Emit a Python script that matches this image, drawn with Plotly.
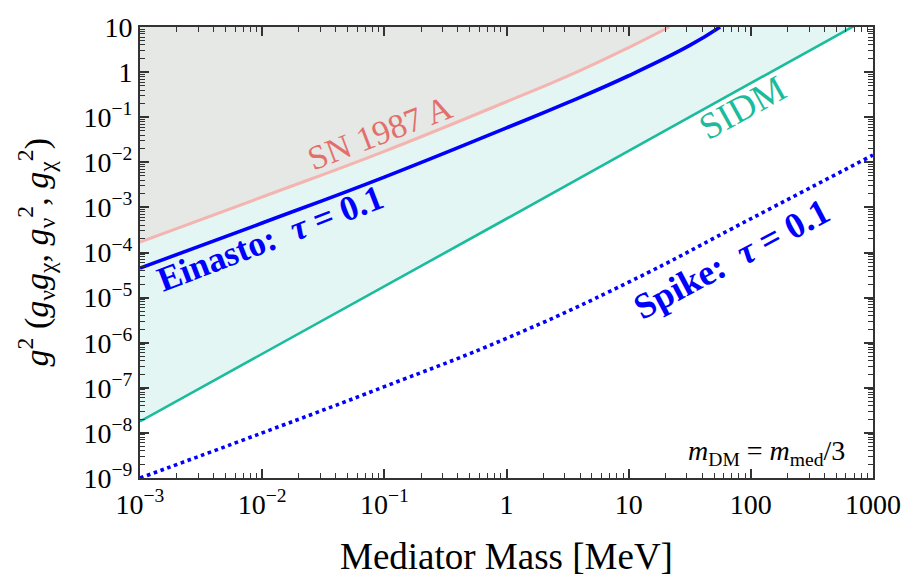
import math
import plotly.graph_objects as go

# Axis extents (MeV on x, coupling squared on y)
X_MIN, X_MAX = 1e-3, 1e3
Y_MIN, Y_MAX = 1e-9, 1e1

# SIDM bound
mass_sidm = [1e-3, 1e-2, 1e-1, 1, 10, 100, 1000]
g2_sidm = [1.8e-8, 5.6e-7, 1.8e-5, 5.6e-4, 1.8e-2, 0.56, 18]

# Einasto profile, tau = 0.1
mass_einasto = [1e-3, 1e-2, 1e-1, 1, 3.16, 10, 31.6, 56]
g2_einasto = [4.5e-5, 4.5e-4, 4.7e-3, 0.058, 0.21, 0.83, 3.9, 10]

# SN 1987A cooling bound
mass_sn = [1e-3, 1e-2, 1e-1, 1, 3.16, 10, 21.5]
g2_sn = [1.7e-4, 1.7e-3, 1.75e-2, 0.22, 0.81, 3.5, 10]

# Spike profile, tau = 0.1
mass_spike = [1e-3, 1e-2, 1e-1, 1, 10, 100, 1000]
g2_spike = [1e-9, 1e-8, 1.06e-7, 1.25e-6, 2.2e-5, 5.6e-4, 1.45e-2]

# Tick labels
x_tick_vals = [1e-3, 1e-2, 1e-1, 1, 10, 100, 1000]
x_tick_text = ["10<sup>−3</sup>", "10<sup>−2</sup>", "10<sup>−1</sup>", "1", "10", "100", "1000"]
y_tick_vals = [1e-9, 1e-8, 1e-7, 1e-6, 1e-5, 1e-4, 1e-3, 1e-2, 1e-1, 1, 10]
y_tick_text = ["10<sup>−9</sup>", "10<sup>−8</sup>", "10<sup>−7</sup>", "10<sup>−6</sup>",
               "10<sup>−5</sup>", "10<sup>−4</sup>", "10<sup>−3</sup>", "10<sup>−2</sup>",
               "10<sup>−1</sup>", "1", "10"]

TEAL = "#1abc9c"
BLUE = "#0000ff"
SN_LINE = "#f4b4b0"
SN_TEXT = "#e36f6c"
CYAN_FILL = "#e3f6f4"
GRAY_FILL = "#e5e8e5"
AXIS = "#333333"
FONT = "'Liberation Serif', 'DejaVu Serif', serif"


def minor_vals(lo, hi):
    vals = []
    for e in range(int(round(math.log10(lo))), int(round(math.log10(hi)))):
        vals += [k * 10 ** e for k in range(2, 10)]
    return vals


fig = go.Figure()

# ceiling for the SIDM-excluded region
fig.add_trace(go.Scatter(x=[X_MIN, X_MAX], y=[Y_MAX, Y_MAX], mode="lines",
                         line=dict(width=0), hoverinfo="skip"))
fig.add_trace(go.Scatter(x=mass_sidm, y=g2_sidm, mode="lines", fill="tonexty",
                         fillcolor=CYAN_FILL, line=dict(color=TEAL, width=2.6)))

# ceiling for the SN 1987A region
fig.add_trace(go.Scatter(x=[X_MIN, X_MAX], y=[Y_MAX, Y_MAX], mode="lines",
                         line=dict(width=0), hoverinfo="skip"))
fig.add_trace(go.Scatter(x=mass_sn, y=g2_sn, mode="lines", fill="tonexty",
                         fillcolor=GRAY_FILL,
                         line=dict(color=SN_LINE, width=3, shape="spline", smoothing=1.3)))

fig.add_trace(go.Scatter(x=mass_einasto, y=g2_einasto, mode="lines",
                         line=dict(color=BLUE, width=3.6, shape="spline", smoothing=1.3)))
fig.add_trace(go.Scatter(x=mass_spike, y=g2_spike, mode="lines",
                         line=dict(color=BLUE, width=3.6, dash="dot", shape="spline",
                                   smoothing=1.3)))

axis_common = dict(
    type="log", showgrid=False, zeroline=False,
    showline=True, linecolor=AXIS, linewidth=2, mirror="ticks",
    ticks="inside", ticklen=9, tickwidth=1.5, tickcolor=AXIS,
    tickfont=dict(family=FONT, size=28, color="black"),
    tickmode="array",
)

fig.update_xaxes(range=[math.log10(X_MIN), math.log10(X_MAX)],
                 tickvals=x_tick_vals, ticktext=x_tick_text,
                 minor=dict(tickmode="array", tickvals=minor_vals(X_MIN, X_MAX),
                            ticks="inside", ticklen=5, tickwidth=1, tickcolor=AXIS),
                 **axis_common)
fig.update_yaxes(range=[math.log10(Y_MIN), math.log10(Y_MAX)],
                 tickvals=y_tick_vals, ticktext=y_tick_text,
                 minor=dict(tickmode="array", tickvals=minor_vals(Y_MIN, Y_MAX),
                            ticks="inside", ticklen=5, tickwidth=1, tickcolor=AXIS),
                 **axis_common)


def label(text, mass, g2, angle, color, size):
    fig.add_annotation(x=math.log10(mass), y=math.log10(g2), xref="x", yref="y",
                       text=text, textangle=angle, showarrow=False,
                       font=dict(family=FONT, size=size, color=color))


label("SN 1987 A", 0.093, 0.046, -21, SN_TEXT, 34)
label("<b>Einasto:  <i>τ</i> = 0.1</b>", 0.0117, 2.0e-4, -21, BLUE, 35)
label("<b>Spike:  <i>τ</i> = 0.1</b>", 70, 7.0e-5, -28, BLUE, 36)
label("SIDM", 85, 0.165, -29, TEAL, 37)

fig.add_annotation(x=0.965, y=0.057, xref="paper", yref="paper",
                   xanchor="right", yanchor="middle", showarrow=False,
                   text="<i>m</i><sub>DM</sub> = <i>m</i><sub>med</sub>/3",
                   font=dict(family=FONT, size=28, color="black"))

# axis titles
fig.add_annotation(x=0.5, y=-0.175, xref="paper", yref="paper",
                   xanchor="center", yanchor="middle", showarrow=False,
                   text="Mediator Mass [MeV]",
                   font=dict(family=FONT, size=37, color="black"))
fig.add_annotation(x=-0.142, y=0.502, xref="paper", yref="paper",
                   xanchor="center", yanchor="middle", showarrow=False, textangle=-90,
                   text="<i>g</i><sup>2</sup> (<i>g</i><sub>ν</sub><i>g</i><sub>χ</sub>, "
                        "<i>g</i><sub>ν</sub><sup>2</sup>, <i>g</i><sub>χ</sub><sup>2</sup>)",
                   font=dict(family=FONT, size=34, color="black"))

fig.update_layout(width=913, height=580, margin=dict(l=140, r=32, t=20, b=102),
                  plot_bgcolor="white", paper_bgcolor="white", showlegend=False,
                  font=dict(family=FONT))

fig.write_html("out.html")
